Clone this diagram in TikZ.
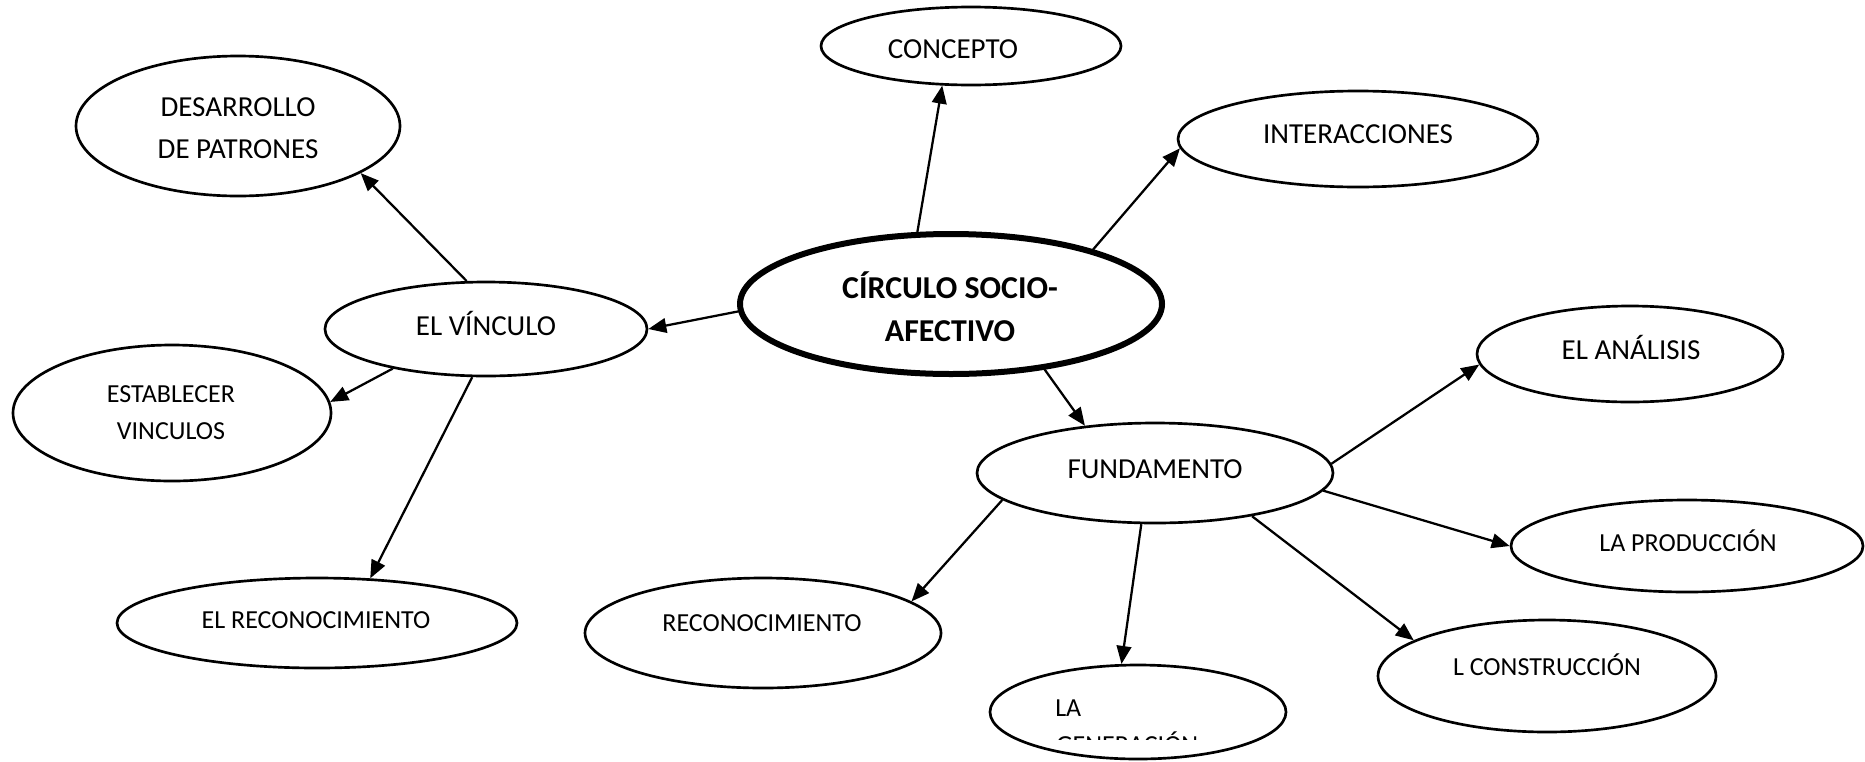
\documentclass[tikz,border=0pt]{standalone}
\usepackage{fontspec}
\setmainfont{Carlito}
\usetikzlibrary{shapes.geometric,arrows.meta}
\tikzset{
  bub/.style 2 args={draw, ellipse, line width=2pt, inner sep=0pt, fill=white,
    minimum width=#1*1.5pt, minimum height=#2*1.5pt},
  arr/.style={line width=1.7pt, -{Triangle[length=13.5pt,width=11pt]}},
  txt/.style={inner sep=0pt, anchor=base, font=\fontsize{21.75pt}{26pt}\selectfont},
  stxt/.style={inner sep=0pt, anchor=base, font=\fontsize{19.5pt}{24pt}\selectfont},
  btxt/.style={inner sep=0pt, anchor=base, font=\fontsize{23.9pt}{28pt}\selectfont\bfseries}
}
\begin{document}
\begin{tikzpicture}[x=0.75pt, y=-0.75pt]
\useasboundingbox (0,0) rectangle (1865,761);
% ellipses
\node[bub={150}{39}] (con) at (971,46) {};
\node[bub={180}{48}] (int) at (1358,139) {};
\node[bub={162}{70}] (des) at (238,126) {};
\node[bub={211}{70}, line width=4.5pt] (cen) at (951,304) {};
\node[bub={161}{47}] (vin) at (486,329) {};
\node[bub={159}{68}] (est) at (172,413) {};
\node[bub={200}{45}] (erc) at (317,623) {};
\node[bub={178}{50}] (fun) at (1155,473) {};
\node[bub={153}{48}] (ana) at (1630,354) {};
\node[bub={176}{46}] (pro) at (1687,546) {};
\node[bub={169}{56}] (cons) at (1547,676) {};
\node[bub={178}{55}] (rec) at (763,633) {};
\node[bub={148}{47}] (gen) at (1138,712) {};
% texts
\node[txt] (tcon) at (953,58) {CONCEPTO};
\node[txt] (tint) at (1358,143) {INTERACCIONES};
\node[txt] (tdesa) at (238,116) {DESARROLLO};
\node[txt] (tdesb) at (238,158) {DE PATRONES};
\node[btxt] (tcena) at (950,298) {CÍRCULO SOCIO-};
\node[btxt] (tcenb) at (950,341) {AFECTIVO};
\node[txt] (tvin) at (486,335) {EL VÍNCULO};
\node[stxt] (testa) at (171,402) {ESTABLECER};
\node[stxt] (testb) at (171,439) {VINCULOS};
\node[stxt] (terc) at (316,628) {EL RECONOCIMIENTO};
\node[txt] (tfun) at (1155,478) {FUNDAMENTO};
\node[txt] (tana) at (1631,359) {EL ANÁLISIS};
\node[stxt] (tpro) at (1688,551) {LA PRODUCCIÓN};
\node[stxt] (tcons) at (1547,675) {L CONSTRUCCIÓN};
\node[stxt] (trec) at (762,631) {RECONOCIMIENTO};
\node[stxt, anchor=base west] (tgena) at (1055,716) {LA};
\begin{scope}
  \clip (1000,700) rectangle (1300,739.5);
  \node[stxt, anchor=base west] (tgenb) at (1056,753) {GENERACIÓN};
\end{scope}
% connectors
\draw[arr] (cen.115) -- (con.234);
\draw[arr] (cen.21) -- (int.183);
\draw[arr] (cen.182) -- (vin.0);
\draw[arr] (cen.-35) -- (fun.146);
\draw[arr] (vin.112) -- (des.-21);
\draw[arr] (vin.203) -- (est.4);
\draw[arr] (vin.254) -- (erc.40);
\draw[arr] (fun.3) -- (ana.184);
\draw[arr] (fun.-6) -- (pro.180);
\draw[arr] (fun.-24) -- (cons.165);
\draw[arr] (fun.190) -- (rec.12);
\draw[arr] (fun.255) -- (gen.109);
\end{tikzpicture}
\end{document}
